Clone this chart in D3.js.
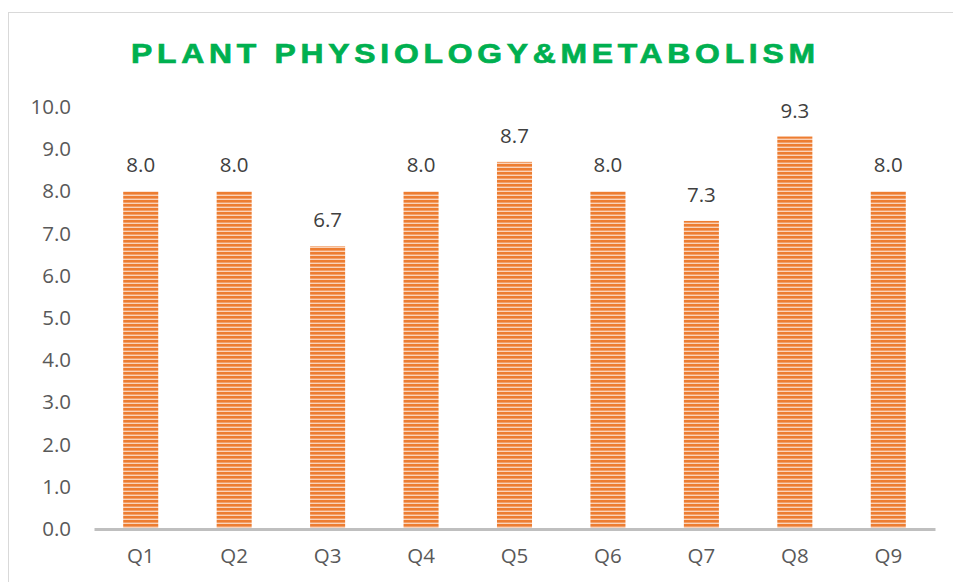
<!DOCTYPE html>
<html>
<head>
<meta charset="utf-8">
<script src="https://cdn.jsdelivr.net/npm/d3@7"></script>
<style>
  body { margin: 0; background: #fff; }
  text { font-family: "Open Sans", "Liberation Sans", Arial, sans-serif; }
</style>
</head>
<body>
<div id="chart"></div>
<script>
// data
const questions = ["Q1", "Q2", "Q3", "Q4", "Q5", "Q6", "Q7", "Q8", "Q9"];
const scores = [8.0, 8.0, 6.7, 8.0, 8.7, 8.0, 7.3, 9.3, 8.0];
const yTicks = [0, 1, 2, 3, 4, 5, 6, 7, 8, 9, 10];
const chartTitle = "PLANT PHYSIOLOGY&METABOLISM";

const W = 953, H = 582;
const margin = { left: 94, right: 18, top: 107, bottom: 53 };

const svg = d3.select("#chart")
  .append("svg")
  .attr("width", W)
  .attr("height", H);

// striped fill like excel's horizontal pattern
const defs = svg.append("defs");
const pat = defs.append("pattern")
  .attr("id", "stripes")
  .attr("patternUnits", "userSpaceOnUse")
  .attr("width", 4)
  .attr("height", 4);
pat.append("rect").attr("width", 4).attr("height", 4).attr("fill", "#fad3b9");
pat.append("rect").attr("width", 4).attr("height", 2).attr("fill", "#ed7d31");
pat.append("rect").attr("y", 2).attr("width", 4).attr("height", 1).attr("fill", "#f29f68");

// chart area border
svg.append("rect")
  .attr("x", 8.5)
  .attr("y", 12.5)
  .attr("width", 1000)
  .attr("height", 700)
  .attr("fill", "none")
  .attr("stroke", "#d9d9d9")
  .attr("stroke-width", 1);

const x = d3.scaleBand()
  .domain(questions)
  .range([margin.left, W - margin.right])
  .paddingInner(0.625)
  .paddingOuter(0.3125);

const y = d3.scaleLinear()
  .domain([0, 10])
  .range([H - margin.bottom, margin.top]);

// title, a bit widened and heavier like the original
const sx = 1.18;
const title = svg.append("text")
  .attr("transform", `translate(131,63) scale(${sx},1)`)
  .attr("fill", "#00b050")
  .attr("stroke", "#00b050")
  .attr("stroke-width", 0.7)
  .style("font-family", "'Liberation Sans', Arial, sans-serif")
  .style("font-size", "27px")
  .style("font-weight", "bold")
  .text(chartTitle);
const natural = title.node().getComputedTextLength();
title.style("letter-spacing", ((684 / sx - natural) / (chartTitle.length - 1)) + "px");

// y axis (labels only)
svg.append("g")
  .attr("transform", `translate(${margin.left},0)`)
  .call(d3.axisLeft(y).tickValues(yTicks).tickFormat(d3.format(".1f")).tickSize(0).tickPadding(23))
  .call(g => g.select(".domain").remove())
  .selectAll("text")
  .attr("fill", "#595959")
  .style("font-family", "'Open Sans', sans-serif")
  .style("font-size", "20.5px");

// bars
svg.append("g")
  .selectAll("rect")
  .data(questions)
  .join("rect")
  .attr("x", (d) => x(d))
  .attr("y", (d, i) => y(scores[i]))
  .attr("width", x.bandwidth())
  .attr("height", (d, i) => y(0) - y(scores[i]))
  .attr("fill", "url(#stripes)");

// value labels
svg.append("g")
  .selectAll("text")
  .data(questions)
  .join("text")
  .attr("x", (d) => x(d) + x.bandwidth() / 2)
  .attr("y", (d, i) => y(scores[i]) - 19)
  .attr("text-anchor", "middle")
  .attr("fill", "#404040")
  .style("font-size", "20.5px")
  .text((d, i) => d3.format(".1f")(scores[i]));

// x axis
svg.append("g")
  .attr("transform", `translate(0,${y(0)})`)
  .call(d3.axisBottom(x).tickSize(0).tickPadding(19))
  .call(g => g.select(".domain").attr("stroke", "#bfbfbf").attr("stroke-width", 3))
  .selectAll("text")
  .attr("fill", "#595959")
  .style("font-family", "'Open Sans', sans-serif")
  .style("font-size", "20.5px");
</script>
</body>
</html>
